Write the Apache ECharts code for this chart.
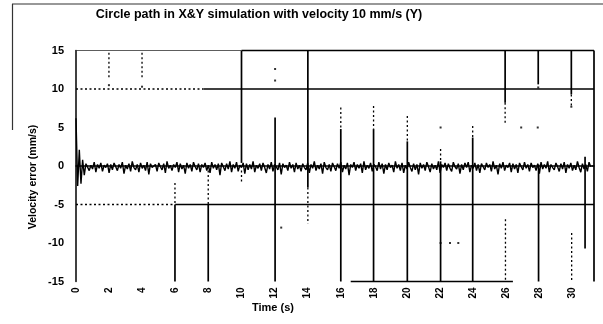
<!DOCTYPE html>
<html>
<head>
<meta charset="utf-8">
<script src="https://cdn.jsdelivr.net/npm/echarts@6/dist/echarts.min.js"></script>
<style>
html,body{margin:0;padding:0;background:#fff;}
#chart{width:603px;height:324px;}
</style>
</head>
<body>
<div id="chart"></div>
<script>
const titleText = 'Circle path in X&Y simulation with velocity 10 mm/s (Y)';
const xTitle = 'Time (s)';
const yTitle = 'Velocity error (mm/s)';

// sample timing of the measured trace
const sampleStart = 0;
const sampleStep = 0.1;

// velocity error trace (mm/s)
const velocityError = [
  6.2,-2.6,2.1,-2.3,0.8,-1.2,0.3,
  0.3,-0.6,0.1,-0.4,0.5,-0.8,0.2,-0.3,0.4,-0.7,
  0.1,-0.2,0.3,-0.9,0.2,-0.5,0.4,-0.1,-0.6,0.2,
  -0.3,0.5,-1.0,0.1,-0.4,0.3,-0.7,0.6,-0.2,-0.5,
  0.2,-0.8,0.4,-0.3,0.1,-0.6,0.5,-1.1,0.3,-0.2,
  -0.4,0.2,-0.7,0.4,-0.1,-0.5,0.3,-0.9,0.6,-0.3,
  0.1,-0.6,0.2,-0.2,0.5,-0.8,0.3,-0.4,0.1,-1.0,
  0.4,-0.3,0.2,-0.7,0.5,-0.1,-0.5,0.3,-0.8,0.2,
  -0.2,0.4,-0.6,0.1,-0.9,0.5,-0.3,0.2,-0.5,0.3,
  -1.2,0.4,-0.1,-0.6,0.3,-0.4,0.6,-0.8,0.2,-0.3,
  0.5,-0.7,0.1,-0.2,0.4,-1.0,0.3,-0.5,0.2,-0.4,
  0.6,-0.8,0.1,-0.3,0.3,-0.6,0.4,-0.2,-0.9,0.2,
  -0.4,0.5,-0.7,0.2,-0.1,-0.5,0.4,-1.1,0.3,-0.2,
  0.1,-0.6,0.5,-0.3,0.2,-0.8,0.4,-0.4,0.1,-0.7,
  0.3,-0.2,-0.5,0.4,-0.9,0.2,-0.3,0.6,-0.6,0.1,
  -0.4,0.3,-1.0,0.5,-0.2,-0.5,0.2,-0.7,0.4,-0.1,
  -0.6,0.3,-0.3,0.5,-0.8,0.1,-0.4,0.4,-1.2,0.2,
  -0.2,0.5,-0.6,0.2,-0.3,0.3,-0.9,0.6,-0.5,0.1,
  -0.3,0.4,-0.7,0.2,-0.1,-0.6,0.5,-0.4,0.3,-1.0,
  0.2,-0.5,0.4,-0.2,0.1,-0.8,0.6,-0.3,0.2,-0.6,
  0.4,-0.9,0.1,-0.4,0.5,-0.2,-0.7,0.3,-0.5,0.2,
  -1.1,0.4,-0.3,0.2,-0.6,0.5,-0.1,-0.8,0.3,-0.4,
  0.1,-0.5,0.6,-0.9,0.2,-0.2,0.4,-0.6,0.3,-0.3,
  -0.7,0.5,-0.1,-0.4,0.3,-1.0,0.2,-0.5,0.4,-0.2,
  0.5,-0.8,0.1,-0.3,0.4,-0.6,0.2,-0.9,0.3,-0.1,
  -0.5,0.4,-0.2,0.2,-0.7,0.6,-0.4,0.1,-1.1,0.3,
  -0.3,0.5,-0.6,0.1,-0.2,0.4,-0.8,0.3,-0.4,0.2,
  -0.9,0.4,-0.1,-0.5,0.5,-0.3,0.2,-0.7,0.4,-0.2,
  0.1,-0.6,0.3,-1.0,0.5,-0.4,0.2,-0.3,0.6,-0.8,
  0.2,-0.2,-0.5,0.4,-0.1,-0.7,0.3,-0.4,0.5,-0.9,
  0.2,-0.3,0.4,-0.6,0.1,-0.5,0.6,-0.2,-0.8,0.3,
  -0.4,0.2,-0.7,0.5,-0.1
];

// solid strokes: [t1, v1, t2, v2]
const solidSpikes = [
  [10.0, 15, 10.0, 0.4],
  [12.03, 6.3, 12.03, -15],
  [14.01, 15, 14.01, -2.8],
  [16.0, 4.8, 16.0, -15],
  [17.98, 4.8, 17.98, -15],
  [20.02, 3.2, 20.02, -15],
  [22.03, 0.6, 22.03, -15],
  [23.97, 3.7, 23.97, -15],
  [25.93, 15, 25.93, 8.2],
  [27.93, 15, 27.93, 10.6],
  [27.95, 0.2, 27.95, -15],
  [29.93, 15, 29.93, 9.3],
  [30.76, 1.2, 30.76, -10.7],
  [5.98, -5, 5.98, -15],
  [7.99, -5, 7.99, -15],
  [31.3, 15, 31.3, -15],
  [10.0, 15, 31.3, 15],
  [7.7, 10, 31.3, 10],
  [6.0, -5, 31.3, -5],
  [16.6, -15, 26.4, -15]
];

// sparse / dotted strokes: [t1, v1, t2, v2]
const dottedSpikes = [
  [1.99, 14.7, 1.99, 11.5],
  [3.99, 14.7, 3.99, 11.5],
  [5.98, -2.2, 5.98, -5],
  [7.99, -0.6, 7.99, -5],
  [10.0, -0.6, 10.0, -2.3],
  [14.01, -2.8, 14.01, -7.5],
  [16.0, 7.6, 16.0, 4.8],
  [17.98, 7.8, 17.98, 4.8],
  [20.02, 6.5, 20.02, 3.2],
  [22.03, 2.2, 22.03, 0.6],
  [23.97, 5.2, 23.97, 3.7],
  [25.93, 8.2, 25.93, 5.6],
  [25.95, -6.9, 25.95, -15],
  [29.93, 9.3, 29.93, 7.7],
  [29.95, -8.7, 29.95, -15],
  [0.0, 10, 7.7, 10],
  [0.0, -5, 6.0, -5],
  [31.15, 0, 31.3, 0]
];

// thin strokes: [t1, v1, t2, v2]
const thinSpikes = [
  [0.0, 15, 10.0, 15]
];

// isolated samples: [t, v]
const isolatedPoints = [
  [1.99, 10.5], [3.99, 10.3], [12.03, 12.6], [12.03, 11.1], [12.4, -8],
  [22.03, 5], [22.03, -10], [22.6, -10], [23.1, -10], [26.9, 5], [27.9, 5],
  [27.93, 10.2], [29.93, 7.7]
];

const xTicks = {min: 0, max: 31.3, step: 2};
const yTicks = {min: -15, max: 15, step: 5};

const FONT = '"Liberation Sans", Arial, sans-serif';

const traceData = velocityError.map((v, i) => [+(sampleStart + i * sampleStep).toFixed(2), v]);

function segRenderer(width, dash, color) {
  return function (params, api) {
    const p1 = api.coord([api.value(0), api.value(1)]);
    const p2 = api.coord([api.value(2), api.value(3)]);
    return {
      type: 'line',
      shape: {x1: p1[0], y1: p1[1], x2: p2[0], y2: p2[1]},
      style: {stroke: color, lineWidth: width, lineDash: dash || null}
    };
  };
}

const chart = echarts.init(document.getElementById('chart'), null, {renderer: 'canvas'});
chart.setOption({
  animation: false,
  backgroundColor: '#fff',
  grid: {left: 76, right: 9, top: 50.5, bottom: 42.5, containLabel: false},
  xAxis: {
    type: 'value', min: xTicks.min, max: xTicks.max, interval: xTicks.step,
    axisLine: {show: true, lineStyle: {color: '#000', width: 1.5}},
    axisTick: {show: false},
    splitLine: {show: false},
    axisLabel: {
      rotate: 90, color: '#000', fontFamily: FONT, fontWeight: 'bold', fontSize: 10, margin: 6,
      showMaxLabel: false,
      formatter: v => (Math.abs(v % 2) < 1e-9 ? String(v) : '')
    }
  },
  yAxis: {
    type: 'value', min: yTicks.min, max: yTicks.max, interval: yTicks.step,
    axisLine: {show: true, lineStyle: {color: '#000', width: 1.5}},
    axisTick: {show: false},
    splitLine: {show: false},
    axisLabel: {color: '#000', fontFamily: FONT, fontWeight: 'bold', fontSize: 11, margin: 12}
  },
  graphic: [
    {type: 'line', shape: {x1: 12, y1: 4, x2: 603, y2: 4}, style: {stroke: '#333', lineWidth: 1.2}, silent: true},
    {type: 'line', shape: {x1: 12.5, y1: 4, x2: 12.5, y2: 130}, style: {stroke: '#333', lineWidth: 1.2}, silent: true},
    {type: 'text', x: 259, y: 15, style: {text: titleText, font: 'bold 12.5px ' + FONT, fill: '#000', textAlign: 'center', textVerticalAlign: 'middle'}, silent: true},
    {type: 'text', x: 273, y: 308, style: {text: xTitle, font: 'bold 11px ' + FONT, fill: '#000', textAlign: 'center', textVerticalAlign: 'middle'}, silent: true},
    {type: 'text', x: 33, y: 177, rotation: Math.PI / 2, style: {text: yTitle, font: 'bold 10.5px ' + FONT, fill: '#000', textAlign: 'center', textVerticalAlign: 'middle'}, silent: true}
  ],
  series: [
    {
      type: 'custom', renderItem: segRenderer(1.7, null, '#000'),
      data: solidSpikes, encode: {x: [0, 2], y: [1, 3]}, clip: false, z: 3
    },
    {
      type: 'custom', renderItem: segRenderer(1.3, [2, 2.5], '#000'),
      data: dottedSpikes, encode: {x: [0, 2], y: [1, 3]}, clip: false, z: 3
    },
    {
      type: 'custom', renderItem: segRenderer(0.8, null, '#333'),
      data: thinSpikes, encode: {x: [0, 2], y: [1, 3]}, clip: false, z: 3
    },
    {
      type: 'scatter', data: isolatedPoints, symbol: 'rect', symbolSize: 2,
      itemStyle: {color: '#000'}, z: 3
    },
    {
      type: 'line', data: traceData, showSymbol: false, symbol: 'none',
      lineStyle: {color: '#000', width: 1.4}, z: 4
    }
  ]
});
</script>
</body>
</html>
